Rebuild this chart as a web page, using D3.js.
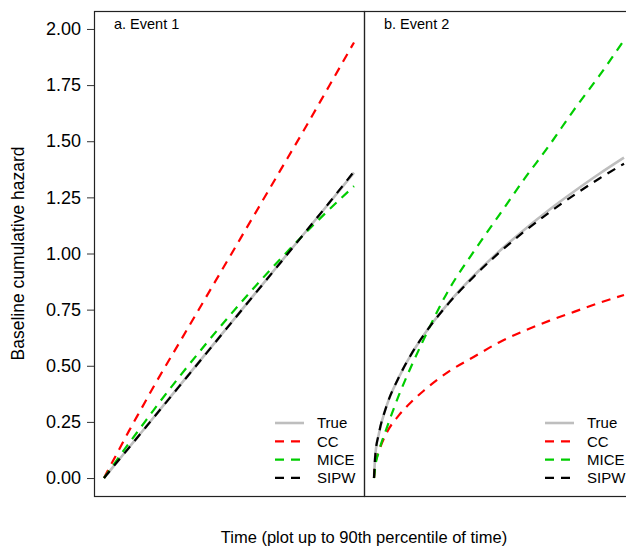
<!DOCTYPE html>
<html lang="en">
	<head>
		<meta charset="utf-8">
		<title>Baseline cumulative hazard</title>
		<script src="https://d3js.org/d3.v7.min.js"></script>
		<style>
			body { margin:0; background:#fff; }
			text { font-family: "Liberation Sans", Arial, Helvetica, sans-serif; fill:#000; }
			.y.axis path { stroke:#333; }
			.y.axis line { stroke:#333; }
		</style>
	</head>
	<body>
		<script>
			// time grid (fraction of 90th percentile of time)
			var times = [0, 0.005, 0.02, 0.05, 0.1, 0.15, 0.2, 0.3, 0.4, 0.5, 0.6, 0.7, 0.8, 0.9, 1.0];

			// a. Event 1
			var e1True = [0, 0.007, 0.027, 0.068, 0.136, 0.204, 0.272, 0.408, 0.544, 0.68, 0.816, 0.952, 1.088, 1.224, 1.36];
			var e1CC   = [0, 0.011, 0.043, 0.105, 0.21, 0.31, 0.41, 0.6, 0.79, 0.98, 1.17, 1.36, 1.55, 1.745, 1.94];
			var e1MICE = [0, 0.008, 0.031, 0.078, 0.155, 0.23, 0.305, 0.449, 0.587, 0.72, 0.847, 0.969, 1.085, 1.195, 1.30];
			var e1SIPW = [0, 0.007, 0.027, 0.068, 0.135, 0.203, 0.271, 0.407, 0.543, 0.679, 0.815, 0.951, 1.088, 1.225, 1.365];

			// b. Event 2
			var e2True = [0, 0.10, 0.20, 0.32, 0.45, 0.553, 0.638, 0.782, 0.902, 1.009, 1.105, 1.194, 1.276, 1.354, 1.427];
			var e2CC   = [0, 0.06, 0.12, 0.20, 0.28, 0.34, 0.39, 0.475, 0.54, 0.604, 0.655, 0.70, 0.74, 0.78, 0.815];
			var e2MICE = [0, 0.05, 0.12, 0.22, 0.37, 0.50, 0.62, 0.84, 1.01, 1.17, 1.33, 1.48, 1.64, 1.79, 1.95];
			var e2SIPW = [0, 0.10, 0.20, 0.32, 0.45, 0.553, 0.638, 0.78, 0.898, 1.003, 1.097, 1.182, 1.26, 1.333, 1.40];

			var methods = ["True", "CC", "MICE", "SIPW"];
			var panelTitles = ["a. Event 1", "b. Event 2"];
			var yTicks = [0, 0.25, 0.5, 0.75, 1.0, 1.25, 1.5, 1.75, 2.0];

			var colors = {"True": "#bebebe", "CC": "#ff0000", "MICE": "#00cd00", "SIPW": "#000000"};
			var dashed = {"True": null, "CC": "9,7", "MICE": "9,7", "SIPW": "9,7"};

			var panels = [
				{title: panelTitles[0], series: [e1True, e1CC, e1MICE, e1SIPW]},
				{title: panelTitles[1], series: [e2True, e2CC, e2MICE, e2SIPW]}
			];

			var totalWidth = 626, totalHeight = 547;
			var plotTop = 11, plotBottom = 496, plotLeft = 94, panelWidth = 270;

			var svg = d3.select("body").append("svg")
				.attr("width", totalWidth)
				.attr("height", totalHeight);

			// R style 4% padding on both scales
			var yScale = d3.scaleLinear()
				.domain([-0.08, 2.08])
				.range([plotBottom, plotTop]);

			panels.forEach(function(p, i) {
				var x0 = plotLeft + i * panelWidth;
				var xScale = d3.scaleLinear()
					.domain([-0.04, 1.04])
					.range([x0, x0 + panelWidth]);

				var line = d3.line()
					.x(function(d) { return xScale(d[0]); })
					.y(function(d) { return yScale(d[1]); })
					.curve(d3.curveMonotoneX);

				for (var k = 0; k < methods.length; k++) {
					var m = methods[k];
					var pts = times.map(function(t, j) { return [t, p.series[k][j]]; });
					svg.append("path")
						.datum(pts)
						.attr("d", line)
						.attr("fill", "none")
						.attr("stroke", colors[m])
						.attr("stroke-width", m == "True" ? 2.6 : 2.2)
						.attr("stroke-dasharray", dashed[m]);
				}

				// box
				svg.append("rect")
					.attr("x", x0 + 0.5)
					.attr("y", plotTop + 0.5)
					.attr("width", panelWidth)
					.attr("height", plotBottom - plotTop)
					.attr("fill", "none")
					.attr("stroke", "#222")
					.attr("stroke-width", 1.2);

				svg.append("text")
					.attr("x", x0 + 20)
					.attr("y", 29)
					.style("font-size", "14.5px")
					.text(p.title);

				// legend
				var lg = svg.append("g")
					.attr("transform", "translate(" + (x0 + 181) + ",0)");
				methods.forEach(function(m, j) {
					var yy = 423 + j * 18.3;
					lg.append("line")
						.attr("x1", 0).attr("x2", 29)
						.attr("y1", yy).attr("y2", yy)
						.attr("stroke", colors[m])
						.attr("stroke-width", m == "True" ? 2.6 : 2.2)
						.attr("stroke-dasharray", dashed[m]);
					lg.append("text")
						.attr("x", 42)
						.attr("y", yy)
						.attr("dy", "0.36em")
						.style("font-size", "15px")
						.text(m);
				});
			});

			// y axis
			var yAxis = d3.axisLeft(yScale)
				.tickValues(yTicks)
				.tickFormat(d3.format(".2f"))
				.tickSize(7)
				.tickPadding(6);
			var yg = svg.append("g")
				.attr("class", "y axis")
				.attr("transform", "translate(" + plotLeft + ",0)")
				.call(yAxis);
			yg.select(".domain").remove();
			yg.selectAll("text")
				.style("font-size", "18px")
				.style("font-family", "'Liberation Sans', Arial, sans-serif")
				.attr("fill", "#000");

			// axis titles
			svg.append("text")
				.attr("transform", "translate(24," + ((plotTop + plotBottom) / 2) + ") rotate(-90)")
				.attr("text-anchor", "middle")
				.style("font-size", "17.5px")
				.text("Baseline cumulative hazard");

			svg.append("text")
				.attr("x", plotLeft + panelWidth)
				.attr("y", 543)
				.attr("text-anchor", "middle")
				.style("font-size", "16.5px")
				.text("Time (plot up to 90th percentile of time)");
		</script>
	</body>
</html>
